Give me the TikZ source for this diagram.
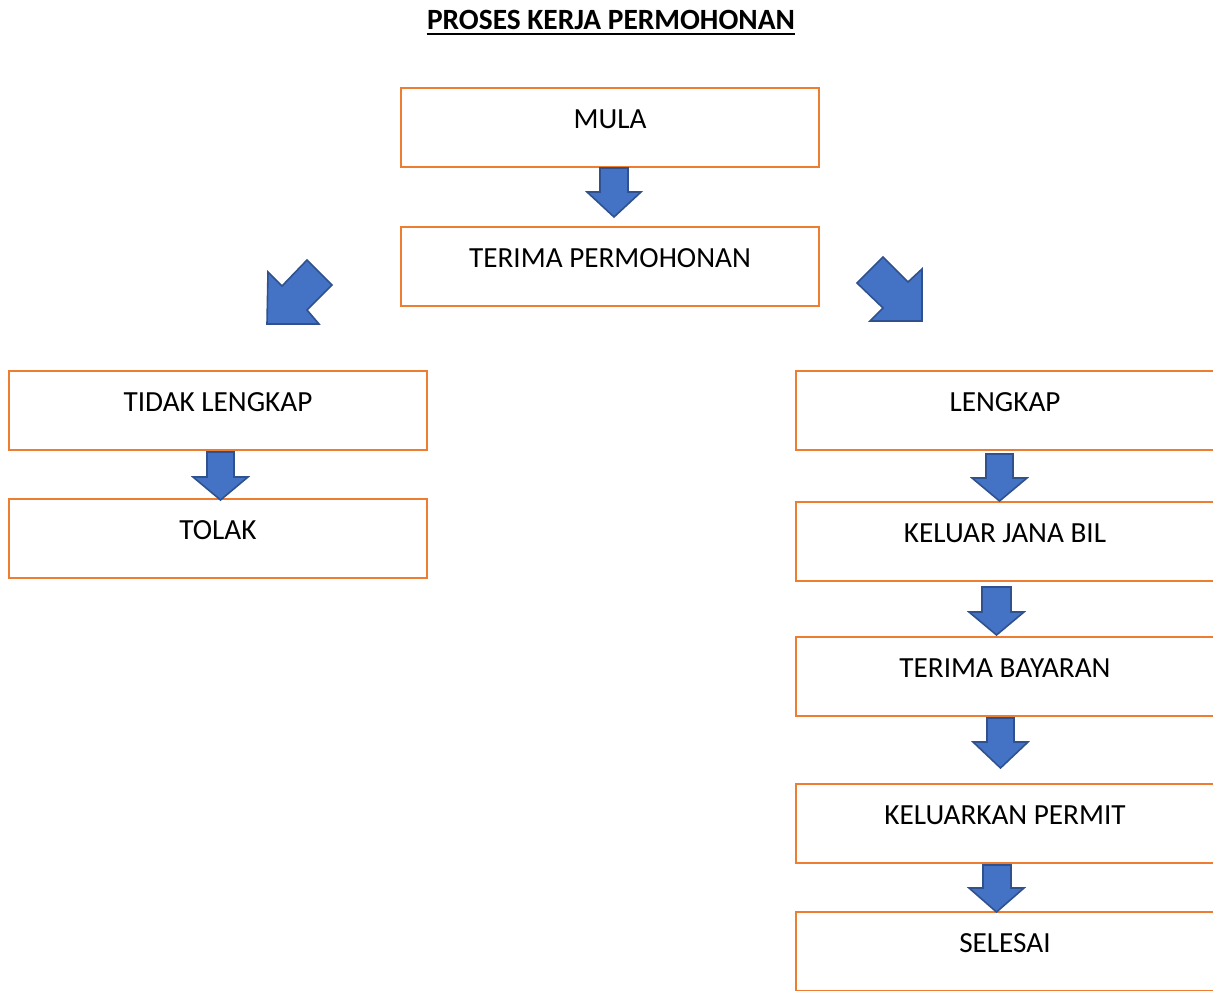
\documentclass[tikz,border=0pt]{standalone}
\usepackage{fontspec}
\setmainfont{Carlito}
\definecolor{boxorange}{HTML}{ED7D31}
\definecolor{arrowblue}{HTML}{4472C4}
\definecolor{arrowdark}{HTML}{2F528F}
\begin{document}
\begin{tikzpicture}[x=0.5pt,y=-0.5pt,
  box/.style={draw=boxorange, line width=1.25pt, minimum width=209pt, inner sep=0pt,
    text height=20pt, text depth=19.5pt, font=\fontsize{14.6}{17}\selectfont},
  barrow/.style={fill=arrowblue, draw=arrowdark, line width=0.8pt, line join=miter},
  titlestyle/.style={inner sep=0pt, font=\fontsize{14.7}{17}\selectfont\bfseries}]
\useasboundingbox (0,0) rectangle (1213,990);
\clip (0,0) rectangle (1213,990);

\node[titlestyle, anchor=base] (title) at (611,30) {PROSES KERJA PERMOHONAN};
\coordinate (ul) at (0,34.5);
\draw[line width=1pt] (title.west |- ul) -- (title.east |- ul);

\node[box] (mula) at (610,127.5) {MULA};
\node[box] (terima) at (610,266.5) {TERIMA PERMOHONAN};
\node[box] (tidak) at (218,410.5) {TIDAK LENGKAP};
\node[box] (tolak) at (218,538.5) {TOLAK};
\node[box] (lengkap) at (1005,410.5) {LENGKAP};
\node[box] (keluar) at (1005,541.5) {KELUAR JANA BIL};
\node[box] (bayaran) at (1005,676.5) {TERIMA BAYARAN};
\node[box] (permit) at (1005,823.5) {KELUARKAN PERMIT};
\node[box] (selesai) at (1005,951.5) {SELESAI};

% mula -> terima
\draw[barrow] (600,168) -- (628,168) -- (628,192) -- (641,192) -- (614,217) -- (587,192) -- (600,192) -- cycle;
% terima -> tidak (diagonal)
\draw[barrow] (267,324) -- (268,272) -- (282,286) -- (307,260) -- (332,285) -- (307,310) -- (319,324) -- cycle;
% terima -> lengkap (diagonal)
\draw[barrow] (857,283) -- (883,257) -- (908,282) -- (922,269) -- (922,321) -- (870,321) -- (883,308) -- cycle;
% tidak -> tolak
\draw[barrow] (207,452) -- (234,452) -- (234,477) -- (248,477) -- (220.5,500) -- (193,477) -- (207,477) -- cycle;
% lengkap -> keluar
\draw[barrow] (986,454) -- (1013,454) -- (1013,478) -- (1027,478) -- (999.5,501) -- (972,478) -- (986,478) -- cycle;
% keluar -> bayaran
\draw[barrow] (982,587) -- (1011,587) -- (1011,612) -- (1024,612) -- (996.5,635) -- (969,612) -- (982,612) -- cycle;
% bayaran -> permit
\draw[barrow] (987,718) -- (1014,718) -- (1014,742) -- (1028,742) -- (1000.5,768) -- (973,742) -- (987,742) -- cycle;
% permit -> selesai
\draw[barrow] (983,865) -- (1011,865) -- (1011,888) -- (1024,888) -- (996.5,912) -- (969,888) -- (983,888) -- cycle;
\end{tikzpicture}
\end{document}
